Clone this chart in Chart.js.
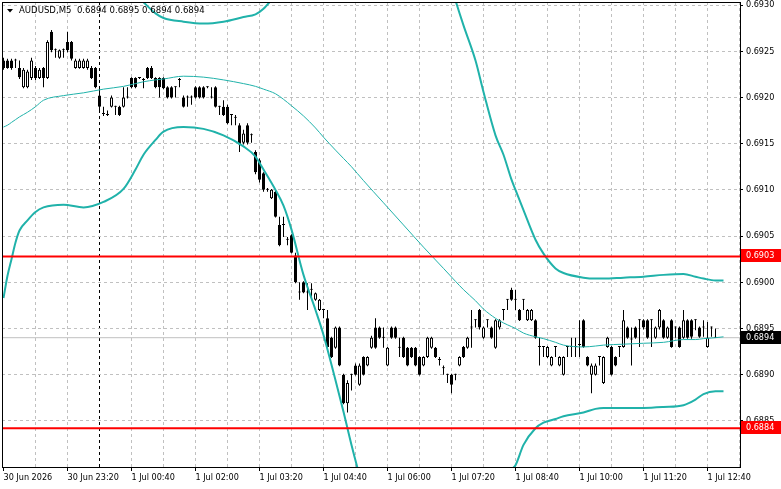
<!DOCTYPE html>
<html>
<head>
<meta charset="utf-8">
<script src="https://cdn.jsdelivr.net/npm/chart.js@4.4.1/dist/chart.umd.min.js"></script>
<style>
  html, body { margin: 0; padding: 0; background: #fff; }
  #chart { display: block; }
</style>
</head>
<body>
<canvas id="chart" width="781" height="489"></canvas>
<script>
// ================================================================== Data
const symbol = 'AUDUSD';
const period = 'M5';

// one bar every 5 minutes, starting 30 Jun 22:00
const opens = [
  0.69240,0.69240,0.69240,0.69240,0.69232,0.69211,0.69211,0.69221,0.69232,0.69221,
  0.69232,0.69221,0.69271,0.69251,0.69243,0.69251,0.69260,0.69260,0.69232,0.69232,
  0.69232,0.69232,0.69232,0.69232,0.69202,0.69182,0.69181,0.69190,0.69190,0.69190,
  0.69190,0.69200,0.69221,0.69221,0.69221,0.69219,0.69232,0.69232,0.69221,0.69221,
  0.69221,0.69211,0.69211,0.69211,0.69219,0.69200,0.69200,0.69200,0.69211,0.69211,
  0.69211,0.69211,0.69200,0.69211,0.69190,0.69190,0.69190,0.69181,0.69178,0.69170,
  0.69151,0.69170,0.69159,0.69141,0.69132,0.69118,0.69100,0.69091,0.69098,0.69062,
  0.69062,0.69046,0.69051,0.69029,0.68989,0.69000,0.68989,0.68992,0.68981,0.68970,
  0.68970,0.68961,0.68940,0.68929,0.68951,0.68900,0.68869,0.68900,0.68910,0.68889,
  0.68919,0.68910,0.68929,0.68951,0.68951,0.68940,0.68910,0.68951,0.68951,0.68929,
  0.68940,0.68929,0.68929,0.68929,0.68919,0.68910,0.68919,0.68929,0.68929,0.68916,
  0.68907,0.68900,0.68900,0.68900,0.68910,0.68930,0.68929,0.68951,0.68959,0.68970,
  0.68940,0.68959,0.68951,0.68929,0.68951,0.68970,0.68981,0.68992,0.68981,0.68970,
  0.68981,0.68959,0.68959,0.68959,0.68930,0.68930,0.68919,0.68910,0.68930,0.68910,
  0.68900,0.68930,0.68930,0.68930,0.68932,0.68959,0.68919,0.68900,0.68900,0.68919,
  0.68891,0.68930,0.68930,0.68919,0.68930,0.68930,0.68951,0.68938,0.68951,0.68959,
  0.68959,0.68959,0.68959,0.68940,0.68951,0.68959,0.68940,0.68959,0.68951,0.68951,
  0.68940,0.68959,0.68959,0.68959,0.68951,0.68951,0.68930,0.68951,0.68940
];
const highs = [
  0.69243,0.69242,0.69242,0.69242,0.69240,0.69232,0.69230,0.69243,0.69234,0.69232,
  0.69233,0.69262,0.69273,0.69253,0.69252,0.69253,0.69271,0.69261,0.69242,0.69242,
  0.69242,0.69242,0.69234,0.69233,0.69210,0.69190,0.69186,0.69202,0.69191,0.69191,
  0.69211,0.69211,0.69222,0.69222,0.69222,0.69221,0.69233,0.69234,0.69222,0.69222,
  0.69222,0.69212,0.69212,0.69212,0.69221,0.69202,0.69202,0.69202,0.69212,0.69212,
  0.69212,0.69212,0.69211,0.69212,0.69191,0.69197,0.69192,0.69182,0.69181,0.69172,
  0.69165,0.69172,0.69161,0.69143,0.69134,0.69119,0.69102,0.69101,0.69100,0.69071,
  0.69071,0.69049,0.69052,0.69032,0.69000,0.69001,0.68999,0.68999,0.68989,0.68982,
  0.68971,0.68970,0.68941,0.68952,0.68952,0.68901,0.68894,0.68901,0.68912,0.68912,
  0.68920,0.68920,0.68942,0.68961,0.68952,0.68951,0.68930,0.68952,0.68952,0.68940,
  0.68941,0.68930,0.68930,0.68930,0.68920,0.68920,0.68941,0.68941,0.68930,0.68919,
  0.68910,0.68901,0.68901,0.68901,0.68920,0.68931,0.68941,0.68970,0.68960,0.68971,
  0.68952,0.68960,0.68952,0.68960,0.68960,0.68971,0.68982,0.68994,0.68992,0.68971,
  0.68982,0.68971,0.68971,0.68960,0.68940,0.68931,0.68931,0.68920,0.68931,0.68920,
  0.68920,0.68931,0.68940,0.68940,0.68959,0.68960,0.68920,0.68912,0.68912,0.68920,
  0.68920,0.68941,0.68931,0.68920,0.68931,0.68970,0.68952,0.68951,0.68952,0.68960,
  0.68960,0.68960,0.68960,0.68952,0.68971,0.68960,0.68952,0.68960,0.68952,0.68952,
  0.68970,0.68960,0.68960,0.68960,0.68952,0.68959,0.68957,0.68952,0.68950
];
const lows = [
  0.69230,0.69231,0.69230,0.69232,0.69220,0.69210,0.69210,0.69219,0.69219,0.69220,
  0.69211,0.69220,0.69249,0.69243,0.69242,0.69243,0.69249,0.69240,0.69231,0.69231,
  0.69231,0.69230,0.69220,0.69210,0.69186,0.69180,0.69180,0.69189,0.69181,0.69180,
  0.69189,0.69199,0.69210,0.69210,0.69220,0.69210,0.69220,0.69220,0.69210,0.69200,
  0.69209,0.69199,0.69199,0.69200,0.69211,0.69189,0.69190,0.69192,0.69199,0.69199,
  0.69199,0.69210,0.69199,0.69189,0.69181,0.69180,0.69171,0.69170,0.69170,0.69141,
  0.69149,0.69149,0.69151,0.69117,0.69108,0.69098,0.69098,0.69090,0.69070,0.69039,
  0.69049,0.69040,0.69031,0.68999,0.68981,0.68988,0.68970,0.68981,0.68980,0.68969,
  0.68961,0.68929,0.68918,0.68928,0.68909,0.68868,0.68859,0.68883,0.68899,0.68888,
  0.68899,0.68909,0.68928,0.68928,0.68939,0.68929,0.68909,0.68939,0.68939,0.68919,
  0.68918,0.68909,0.68918,0.68909,0.68899,0.68909,0.68918,0.68928,0.68918,0.68910,
  0.68900,0.68891,0.68880,0.68894,0.68909,0.68918,0.68928,0.68929,0.68951,0.68949,
  0.68939,0.68951,0.68939,0.68928,0.68949,0.68959,0.68970,0.68980,0.68970,0.68958,
  0.68970,0.68958,0.68958,0.68939,0.68910,0.68919,0.68918,0.68909,0.68919,0.68909,
  0.68899,0.68919,0.68919,0.68919,0.68919,0.68929,0.68909,0.68880,0.68899,0.68910,
  0.68890,0.68929,0.68899,0.68909,0.68919,0.68929,0.68939,0.68910,0.68939,0.68930,
  0.68949,0.68939,0.68930,0.68939,0.68949,0.68939,0.68939,0.68929,0.68940,0.68929,
  0.68939,0.68939,0.68939,0.68948,0.68940,0.68941,0.68929,0.68941,0.68940
];
const closes = [
  0.69232,0.69232,0.69232,0.69240,0.69222,0.69230,0.69228,0.69240,0.69221,0.69230,
  0.69221,0.69260,0.69251,0.69251,0.69251,0.69251,0.69251,0.69242,0.69240,0.69240,
  0.69240,0.69240,0.69221,0.69211,0.69190,0.69182,0.69181,0.69200,0.69190,0.69181,
  0.69200,0.69200,0.69211,0.69211,0.69221,0.69219,0.69221,0.69221,0.69211,0.69211,
  0.69210,0.69200,0.69200,0.69211,0.69219,0.69190,0.69200,0.69200,0.69200,0.69200,
  0.69200,0.69211,0.69200,0.69190,0.69190,0.69181,0.69172,0.69181,0.69178,0.69149,
  0.69161,0.69151,0.69159,0.69119,0.69111,0.69100,0.69100,0.69100,0.69071,0.69040,
  0.69062,0.69046,0.69032,0.69000,0.68989,0.68989,0.68989,0.68992,0.68988,0.68981,
  0.68970,0.68930,0.68919,0.68951,0.68910,0.68869,0.68891,0.68900,0.68900,0.68910,
  0.68900,0.68919,0.68940,0.68929,0.68940,0.68940,0.68929,0.68940,0.68940,0.68929,
  0.68919,0.68910,0.68919,0.68910,0.68900,0.68919,0.68940,0.68940,0.68919,0.68916,
  0.68907,0.68900,0.68889,0.68900,0.68919,0.68919,0.68940,0.68951,0.68959,0.68951,
  0.68951,0.68959,0.68940,0.68959,0.68959,0.68970,0.68981,0.68981,0.68981,0.68959,
  0.68981,0.68970,0.68970,0.68940,0.68930,0.68930,0.68930,0.68919,0.68930,0.68919,
  0.68919,0.68930,0.68930,0.68930,0.68932,0.68930,0.68910,0.68910,0.68910,0.68919,
  0.68919,0.68940,0.68900,0.68910,0.68930,0.68959,0.68940,0.68938,0.68940,0.68959,
  0.68951,0.68940,0.68959,0.68951,0.68970,0.68940,0.68951,0.68930,0.68951,0.68930,
  0.68959,0.68940,0.68941,0.68959,0.68941,0.68951,0.68940,0.68951,0.68940
];

// Bollinger bands at these bar numbers
const bandIdx = [
  0, 1, 2, 3, 4, 6, 8, 10, 15, 20,
  25, 30, 33, 35, 38, 40, 45, 50, 55, 60,
  63, 65, 68, 70, 72, 75, 78, 80, 83, 85,
  87, 90, 95, 100, 105, 110, 113, 115, 118, 120,
  123, 125, 127, 128, 130, 133, 135, 138, 140, 145,
  148, 150, 155, 160, 165, 170, 173, 175, 178, 180
];
const upperBand = [
  0.69354,0.69349,0.69343,0.69336,0.69329,0.69323,0.69318,0.69316,0.69321,0.69329,
  0.69332,0.69323,0.69311,0.69303,0.69291,0.69286,0.69282,0.69280,0.69282,0.69287,
  0.69290,0.69296,0.69311,0.69322,0.69332,0.69354,0.69370,0.69381,0.69397,0.69408,
  0.69419,0.69435,0.69457,0.69468,0.69446,0.69349,0.69305,0.69278,0.69240,0.69206,
  0.69159,0.69138,0.69111,0.69100,0.69078,0.69046,0.69031,0.69015,0.69010,0.69005,
  0.69004,0.69004,0.69005,0.69006,0.69008,0.69009,0.69006,0.69004,0.69002,0.69002
];
const middleBand = [
  0.69168,0.69170,0.69173,0.69176,0.69179,0.69184,0.69190,0.69197,0.69202,0.69205,
  0.69209,0.69212,0.69215,0.69217,0.69219,0.69220,0.69223,0.69222,0.69219,0.69215,
  0.69212,0.69209,0.69204,0.69198,0.69191,0.69180,0.69167,0.69157,0.69143,0.69134,
  0.69125,0.69110,0.69086,0.69062,0.69038,0.69015,0.69001,0.68992,0.68980,0.68971,
  0.68961,0.68956,0.68952,0.68950,0.68945,0.68941,0.68939,0.68935,0.68932,0.68930,
  0.68931,0.68932,0.68933,0.68934,0.68935,0.68938,0.68938,0.68939,0.68940,0.68941
];
const lowerBand = [
  0.68983,0.69007,0.69025,0.69043,0.69056,0.69067,0.69076,0.69081,0.69084,0.69081,
  0.69087,0.69101,0.69122,0.69138,0.69154,0.69163,0.69168,0.69166,0.69159,0.69147,
  0.69136,0.69122,0.69100,0.69083,0.69057,0.69008,0.68970,0.68943,0.68894,0.68860,
  0.68824,0.68775,0.68700,0.68656,0.68640,0.68656,0.68678,0.68700,0.68721,0.68737,
  0.68759,0.68775,0.68797,0.68802,0.68824,0.68842,0.68848,0.68852,0.68855,0.68859,
  0.68863,0.68864,0.68864,0.68864,0.68865,0.68867,0.68873,0.68879,0.68882,0.68882
];

const levelLines = [0.69028, 0.68842];
const bidPrice = 0.6894;

const priceTicks = [0.6885, 0.6890, 0.6895, 0.6900, 0.6905, 0.6910, 0.6915, 0.6920, 0.6925, 0.6930];
// one label every 16 bars
const timeLabels = ['30 Jun 2026', '30 Jun 23:20', '1 Jul 00:40', '1 Jul 02:00', '1 Jul 03:20', '1 Jul 04:40',
  '1 Jul 06:00', '1 Jul 07:20', '1 Jul 08:40', '1 Jul 10:00', '1 Jul 11:20', '1 Jul 12:40'];
const dayBreakBar = 24;

// ================================================================== Style
const FONT = '"DejaVu Sans Condensed", "Liberation Sans", Arial, sans-serif';
const BAND = '#20b2aa';
const GRID = '#c0c0c0';

// ================================================================== Helpers
function bandData(values) {
    return bandIdx.map((x, k) => ({ x: x, y: values[k] }));
}

function flatLine(price) {
    return [{ x: -2, y: price }, { x: 190, y: price }];
}

function gridTicks() {
    let ticks = [];
    for (let v = 0; v <= 184; v += 8) {
        ticks.push({ value: v });
    }
    return ticks;
}

function noPadding(s) {
    s.paddingTop = 0;
    s.paddingBottom = 0;
    s.paddingLeft = 0;
    s.paddingRight = 0;
}

let bodies = opens.map((o, i) => ({ x: i, y: [o, closes[i]] }));
let wicks = lows.map((l, i) => ({ x: i, y: [l, highs[i]] }));
let bodyColors = opens.map((o, i) => closes[i] > o ? '#ffffff' : '#000000');

// ================================================================== Overlay
const overlay = {
    id: 'overlay',
    afterDraw(chart) {
        let ctx = chart.ctx;
        let a = chart.chartArea;
        let y = chart.scales.y;
        ctx.save();

        ctx.strokeStyle = '#000';
        ctx.lineWidth = 1;
        ctx.strokeRect(a.left + 0.5, a.top + 0.5, a.right - a.left, a.bottom - a.top - 1);

        ctx.font = '9px ' + FONT;
        ctx.textBaseline = 'middle';
        ctx.textAlign = 'left';

        function tag(price, bg) {
            let py = Math.round(y.getPixelForValue(price));
            ctx.fillStyle = bg;
            ctx.fillRect(a.right + 1, py - 7, chart.width - a.right - 1, 13);
            ctx.fillStyle = '#fff';
            ctx.fillText(price.toFixed(4), a.right + 6, py);
        }
        tag(levelLines[0], '#ff0000');
        tag(levelLines[1], '#ff0000');
        tag(bidPrice, '#000000');

        let last = opens.length - 1;
        ctx.fillStyle = '#000';
        ctx.beginPath();
        ctx.moveTo(7, 9);
        ctx.lineTo(13, 9);
        ctx.lineTo(10, 12.5);
        ctx.closePath();
        ctx.fill();
        ctx.font = '9.5px ' + FONT;
        let title = `${symbol},${period}  ${opens[last].toFixed(4)} ${highs[last].toFixed(4)} ${lows[last].toFixed(4)} ${closes[last].toFixed(4)}`;
        ctx.fillText(title, 19, 11);
        ctx.restore();
    }
};

// ================================================================== Chart
new Chart(document.getElementById('chart'), {
    type: 'bar',
    data: {
        datasets: [
            { type: 'line', data: flatLine(levelLines[0]), borderColor: '#ff0000', borderWidth: 2, pointRadius: 0, clip: 0, order: 0 },
            { type: 'line', data: flatLine(levelLines[1]), borderColor: '#ff0000', borderWidth: 2, pointRadius: 0, clip: 0, order: 0 },
            { type: 'line', data: bandData(upperBand), borderColor: BAND, borderWidth: 2, pointRadius: 0, cubicInterpolationMode: 'monotone', clip: 0, order: 1 },
            { type: 'line', data: bandData(middleBand), borderColor: BAND, borderWidth: 1, pointRadius: 0, cubicInterpolationMode: 'monotone', clip: 0, order: 1 },
            { type: 'line', data: bandData(lowerBand), borderColor: BAND, borderWidth: 2, pointRadius: 0, cubicInterpolationMode: 'monotone', clip: 0, order: 1 },
            {
                type: 'bar', data: bodies, backgroundColor: bodyColors, borderColor: '#000', borderWidth: 1,
                borderSkipped: false, barThickness: 3, minBarLength: 1, grouped: false, inflateAmount: 0, order: 2
            },
            {
                type: 'bar', data: wicks, backgroundColor: '#000', borderWidth: 0,
                barThickness: 1, grouped: false, inflateAmount: 0, order: 3
            },
            { type: 'line', data: flatLine(bidPrice), borderColor: GRID, borderWidth: 1, pointRadius: 0, clip: 0, order: 4 }
        ]
    },
    options: {
        responsive: false,
        animation: false,
        devicePixelRatio: 1,
        events: [],
        layout: { padding: { left: 2, top: 2, right: 0, bottom: 0 } },
        plugins: { legend: { display: false }, tooltip: { enabled: false } },
        scales: {
            x: {
                type: 'linear',
                min: -0.375,
                max: 184.125,
                offset: false,
                afterBuildTicks: (s) => { s.ticks = gridTicks(); },
                afterFit: (s) => { s.height = 21; noPadding(s); },
                grid: {
                    offset: false,
                    lineWidth: 1,
                    color: (c) => {
                        let v = c.tick ? c.tick.value : -1;
                        if (v === 0) return 'rgba(0,0,0,0)';
                        if (v === dayBreakBar) return '#000';
                        return GRID;
                    },
                    tickLength: 3,
                    tickColor: (c) => (c.tick && c.tick.value % 16 === 0) ? '#000' : 'rgba(0,0,0,0)'
                },
                border: { display: false, dash: [3, 3] },
                ticks: {
                    autoSkip: false,
                    maxRotation: 0,
                    minRotation: 0,
                    align: 'start',
                    padding: 1,
                    color: '#000',
                    font: { family: FONT, size: 9 },
                    callback: (v) => v % 16 === 0 ? timeLabels[v / 16] : ''
                }
            },
            y: {
                position: 'right',
                min: 0.68799,
                max: 0.693033,
                beginAtZero: false,
                afterBuildTicks: (s) => { s.ticks = priceTicks.map(v => ({ value: v })); },
                afterFit: (s) => { s.width = 41; noPadding(s); },
                grid: { color: GRID, lineWidth: 1, tickLength: 3, tickColor: '#000' },
                border: { display: false, dash: [3, 3] },
                ticks: {
                    padding: 3,
                    color: '#000',
                    font: { family: FONT, size: 9 },
                    callback: (v) => v.toFixed(4)
                }
            }
        }
    },
    plugins: [overlay]
});
</script>
</body>
</html>
